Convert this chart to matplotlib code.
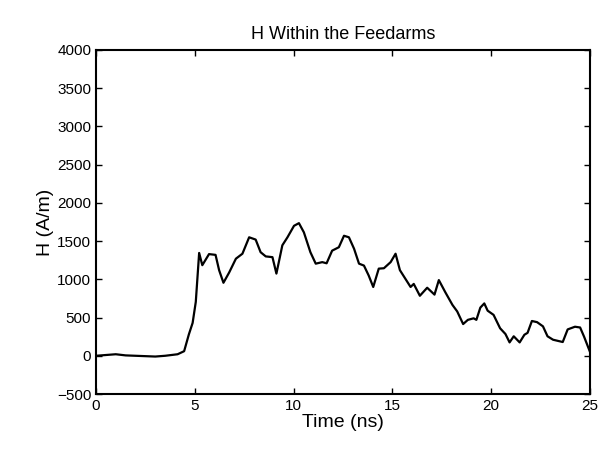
import matplotlib
matplotlib.use("Agg")
import matplotlib.pyplot as plt

time_ns = [0, 0.5, 1, 1.5, 2, 2.5, 3, 3.5, 4.13, 4.46, 4.7, 4.89, 5.05, 5.22, 5.38, 5.72, 6.05, 6.23,
           6.45, 6.74, 7.08, 7.41, 7.75, 8.08, 8.33, 8.59, 8.93, 9.13, 9.43, 9.69, 10.02, 10.27, 10.52,
           10.85, 11.12, 11.45, 11.67, 11.95, 12.29, 12.55, 12.8, 13.06, 13.31, 13.56, 13.8, 14.03,
           14.31, 14.57, 14.91, 15.16, 15.38, 15.65, 15.92, 16.08, 16.39, 16.76, 17.13, 17.35, 17.68,
           18.04, 18.28, 18.58, 18.82, 19.11, 19.25, 19.45, 19.65, 19.82, 20.12, 20.45, 20.72, 20.93,
           21.14, 21.44, 21.68, 21.84, 22.06, 22.32, 22.62, 22.85, 23.13, 23.62, 23.87, 24.24, 24.5,
           24.7, 24.85, 25]
h_field = [0, 10, 20, 5, 0, -5, -10, 0, 20, 60, 280, 430, 705, 1345, 1185, 1330, 1320, 1120,
           955, 1090, 1270, 1335, 1550, 1520, 1355, 1300, 1290, 1075, 1445, 1550, 1700, 1735, 1615,
           1355, 1205, 1225, 1210, 1375, 1420, 1570, 1550, 1400, 1205, 1180, 1050, 900,
           1140, 1145, 1225, 1335, 1120, 1010, 900, 940, 785, 890, 800, 990, 830,
           665, 580, 415, 470, 490, 470, 630, 685, 590, 535, 360, 285, 175,
           255, 175, 275, 300, 455, 440, 385, 255, 210, 180, 345, 380, 370,
           250, 150, 50]

plt.rcParams['font.family'] = ['Liberation Sans', 'DejaVu Sans']
fig = plt.figure(figsize=(6.13, 4.49), dpi=100)
ax = fig.add_axes([96/613, 1-394/449, (590-96)/613, (394-50)/449])
ax.plot(time_ns, h_field, color='black', lw=1.6)
ax.set_xlim(0, 25)
ax.set_ylim(-500, 4000)
ax.set_xticks(range(0, 26, 5))
ax.set_yticks(range(-500, 4001, 500))
ax.tick_params(direction='in', labelsize=11, length=4, width=1, top=True, right=True)
for s in ax.spines.values():
    s.set_linewidth(1.5)
ax.set_xlabel('Time (ns)', fontsize=14, labelpad=1)
ax.set_ylabel('H (A/m)', fontsize=14, labelpad=2)
ax.set_title('H Within the Feedarms', fontsize=13, pad=8)
fig.savefig('out.png', dpi=100)
